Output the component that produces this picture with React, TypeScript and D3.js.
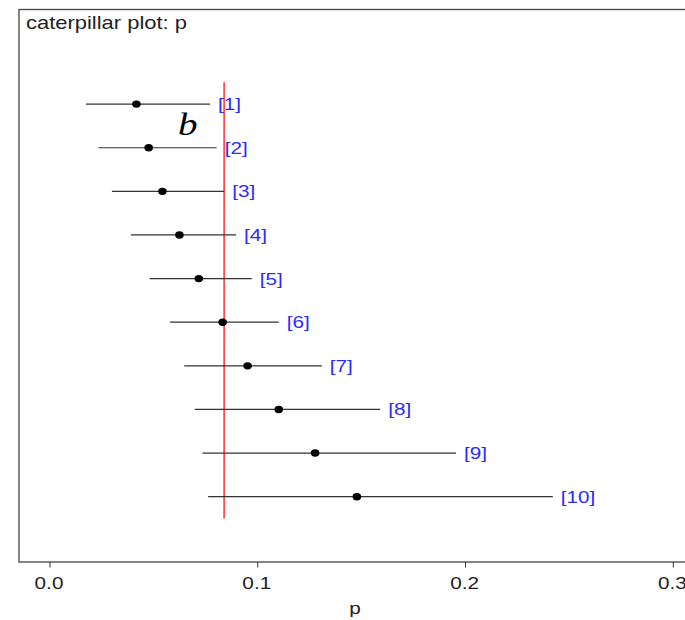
import * as d3 from 'd3';

const labels = ['[1]', '[2]', '[3]', '[4]', '[5]', '[6]', '[7]', '[8]', '[9]', '[10]'];
const means = [0.0416, 0.0475, 0.0541, 0.0623, 0.0716, 0.0831, 0.0951, 0.1101, 0.1276, 0.1477];
const lower = [0.0173, 0.0233, 0.0298, 0.0389, 0.048, 0.0578, 0.0646, 0.0697, 0.0734, 0.0761];
const upper = [0.077, 0.0802, 0.0839, 0.0895, 0.0971, 0.1101, 0.1308, 0.1589, 0.1954, 0.242];
const refValue = 0.0838;
const xTicks = [0, 0.1, 0.2, 0.3];

const W = 685;
const H = 620;
const box = { left: 19, top: 9.5, right: 700, bottom: 562 };
const SX = 1.22; // the picture is stretched sideways a little
const font = '"Liberation Sans", Arial, sans-serif';

const x = d3.scaleLinear().domain([0, 0.3]).range([50, 673.3]);
const y = d3.scalePoint<string>().domain(labels).range([82.3, 518.5]).padding(0.5);

const Txt = ({ x, y, size, anchor = 'start', fill = '#222', children, family = font, italic = false }: any) => (
  <text
    transform={`translate(${x},${y}) scale(${SX},1)`}
    fontSize={size}
    fontFamily={family}
    fontStyle={italic ? 'italic' : 'normal'}
    textAnchor={anchor}
    fill={fill}
  >
    {children}
  </text>
);

export default function App() {
  const [y0, y1] = y.range();
  return (
    <svg width={W} height={H} style={{ position: 'absolute', left: 0, top: 0, background: '#fff' }}>
      <rect
        x={box.left}
        y={box.top}
        width={box.right - box.left}
        height={box.bottom - box.top}
        fill="none"
        stroke="#444"
        strokeWidth={1.3}
      />
      <Txt x={26} y={29} size={18}>caterpillar plot: p</Txt>

      {/* reference line */}
      <line x1={x(refValue)} x2={x(refValue)} y1={y0} y2={y1} stroke="#ff2020" strokeWidth={1.4} />

      {labels.map((lab, i) => {
        const cy = y(lab)!;
        return (
          <g key={lab}>
            <line x1={x(lower[i])} x2={x(upper[i])} y1={cy} y2={cy} stroke="#333" strokeWidth={1.2} />
            <ellipse cx={x(means[i])} cy={cy} rx={4.3} ry={3.7} fill="#000" />
            <Txt x={x(upper[i]) + 8} y={cy + 6} size={17} fill="#2b2bff">{lab}</Txt>
          </g>
        );
      })}

      <Txt x={178} y={135} size={32} family='"Liberation Serif", "Times New Roman", serif' italic fill="#000">b</Txt>

      {/* x axis */}
      {xTicks.map((t) => (
        <g key={t}>
          <line x1={x(t)} x2={x(t)} y1={box.bottom} y2={box.bottom + 5.5} stroke="#333" strokeWidth={1} />
          <Txt x={x(t) - 1} y={589} size={17} anchor="middle">{d3.format('.1f')(t)}</Txt>
        </g>
      ))}
      <Txt x={355} y={614} size={17} anchor="middle">p</Txt>
    </svg>
  );
}
